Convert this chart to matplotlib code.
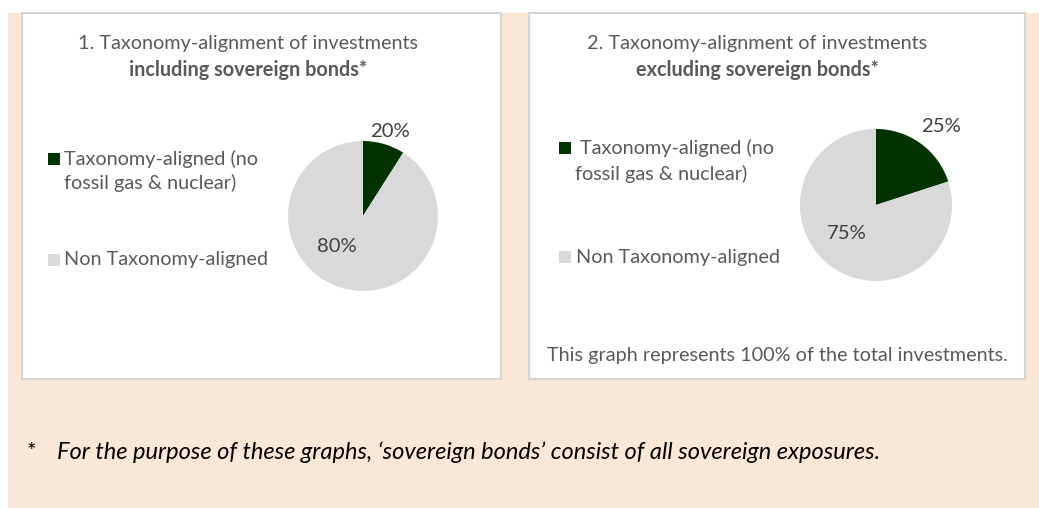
import matplotlib
matplotlib.use("Agg")
import matplotlib.pyplot as plt
from matplotlib.patches import Rectangle

# data
categories = ["Taxonomy-aligned (no\nfossil gas & nuclear)", "Non Taxonomy-aligned"]
wedges_incl = [9, 91]          # slice sizes as drawn
wedges_excl = [20, 80]
labels_incl = ["20%", "80%"]   # printed labels
labels_excl = ["25%", "75%"]
titles = [("1. Taxonomy-alignment of investments", "including sovereign bonds*"),
          ("2. Taxonomy-alignment of investments", "excluding sovereign bonds*")]
note = "This graph represents 100% of the total investments."
footnote = "For the purpose of these graphs, \u2018sovereign bonds\u2019 consist of all sovereign exposures."

colors = ["#003300", "#D9D9D9"]
txt = "#595959"
lab = "#404040"
FONT = "Lato"
FS = 14.3

W, H = 1039, 508
fig = plt.figure(figsize=(W / 100, H / 100), dpi=100)
fig.patch.set_facecolor("white")

# background axes in pixel coordinates (y down)
bg = fig.add_axes([0, 0, 1, 1])
bg.set_xlim(0, W)
bg.set_ylim(H, 0)
bg.axis("off")
bg.add_patch(Rectangle((8, 13), W - 8, H - 13, facecolor="#FAE7D6", edgecolor="none"))
for x0, x1 in [(22, 501), (529, 1025)]:
    bg.add_patch(Rectangle((x0, 13), x1 - x0, 366, facecolor="white",
                           edgecolor="#D4D4D4", linewidth=1.5))


def pie_axes(cx, cy, r):
    ax = fig.add_axes([(cx - r) / W, (H - cy - r) / H, 2 * r / W, 2 * r / H])
    ax.set_xlim(-1, 1)
    ax.set_ylim(-1, 1)
    ax.axis("off")
    return ax


panels = [
    dict(cx=363, cy=216, r=75, vals=wedges_incl, labs=labels_incl,
         lpos=[(0.36, 1.13), (-0.35, -0.41)], tx=248, sq=48, ltx=[64, 64],
         ly=[159, 183, 260]),
    dict(cx=876, cy=205, r=76, vals=wedges_excl, labs=labels_excl,
         lpos=[(0.86, 1.03), (-0.39, -0.38)], tx=757, sq=559, ltx=[576, 576],
         ly=[148, 174, 257]),
]

for i, p in enumerate(panels):
    ax = pie_axes(p["cx"], p["cy"], p["r"])
    ax.pie(p["vals"], colors=colors, startangle=90, counterclock=False, radius=1,
           wedgeprops=dict(linewidth=0))
    ax.set_xlim(-1, 1)
    ax.set_ylim(-1, 1)
    for (lx, ly), s in zip(p["lpos"], p["labs"]):
        ax.text(lx, ly, s, ha="center", va="center", fontsize=14.6, color=lab,
                family=FONT)

    t1, t2 = titles[i]
    bg.text(p["tx"], 43, t1, ha="center", va="center", fontsize=FS, color=txt, family=FONT)
    bg.text(p["tx"], 70, t2, ha="center", va="center", fontsize=FS, color=txt,
            family=FONT, fontweight="bold")

    # legend
    y1, y2, y3 = p["ly"]
    bg.add_patch(Rectangle((p["sq"], y1 - 6), 12, 12, facecolor=colors[0], edgecolor="none"))
    bg.add_patch(Rectangle((p["sq"], y3 - 6), 12, 12, facecolor=colors[1], edgecolor="none"))
    first, second = categories[0].split("\n")
    bg.text(p["ltx"][0] + (4 if i == 1 else 0), y1, first, ha="left", va="center",
            fontsize=FS, color=txt, family=FONT)
    bg.text(p["ltx"][0] - (1 if i == 1 else 0), y2, second, ha="left", va="center",
            fontsize=FS, color=txt, family=FONT)
    bg.text(p["ltx"][1], y3, categories[1], ha="left", va="center",
            fontsize=FS, color=txt, family=FONT)

bg.text(777, 356, note, ha="center", va="center", fontsize=FS, color=txt, family=FONT)

bg.text(27, 452, "*", ha="left", va="center", fontsize=16, color="black", family=FONT)
bg.text(57, 452, footnote, ha="left", va="center", fontsize=17, color="black",
        family=FONT, style="italic")

fig.savefig("out.png", dpi=100)
